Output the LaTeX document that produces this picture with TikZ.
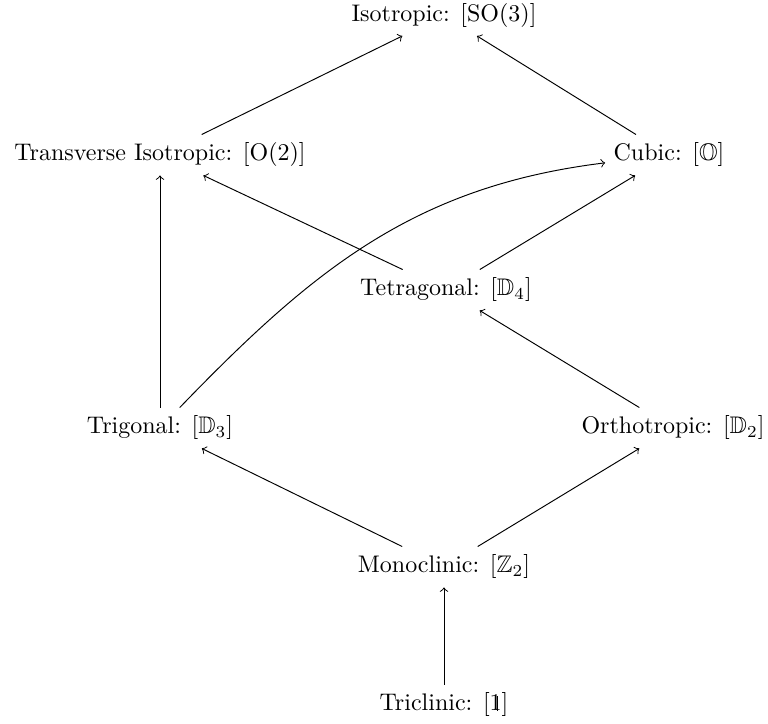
\documentclass[tikz,border=0pt]{standalone}
\usepackage{amssymb}
\newcommand{\dsone}{\mbox{\rlap{1}\kern3.15pt\vrule height 6.3pt depth 0pt width 0.35pt\kern1.5pt}}
\begin{document}
\begin{tikzpicture}[x=0.41667pt,y=-0.41667pt,
  lbl/.style={inner sep=3.33pt},
  arr/.style={->}]
\useasboundingbox (0,0) rectangle (768,724);
\node[lbl] (iso)   at (444,15.5) {Isotropic: [SO(3)]};
\node[lbl] (ti)    at (160,155) {Transverse Isotropic: [O(2)]};
\node[lbl] (cub)   at (669,155) {Cubic: [$\mathbb{O}$]};
\node[lbl] (tet)   at (446,290) {Tetragonal: [$\mathbb{D}_4$]};
\node[lbl] (tri)   at (160,428) {Trigonal: [$\mathbb{D}_3$]};
\node[lbl] (ort)   at (673,428) {Orthotropic: [$\mathbb{D}_2$]};
\node[lbl] (mono)  at (444,567) {Monoclinic: [$\mathbb{Z}_2$]};
\node[lbl] (tric)  at (444,705) {Triclinic: [\dsone]};
\draw[arr] (ti) -- (iso);
\draw[arr] (cub) -- (iso);
\draw[arr] (tet) -- (ti);
\draw[arr] (tet) -- (cub);
\draw[arr] (ort) -- (tet);
\draw[arr] (tri) -- (ti);
\draw[arr] (tri) to[out=46,in=187] (cub);
\draw[arr] (mono) -- (tri);
\draw[arr] (mono) -- (ort);
\draw[arr] (tric) -- (mono);
\end{tikzpicture}
\end{document}
